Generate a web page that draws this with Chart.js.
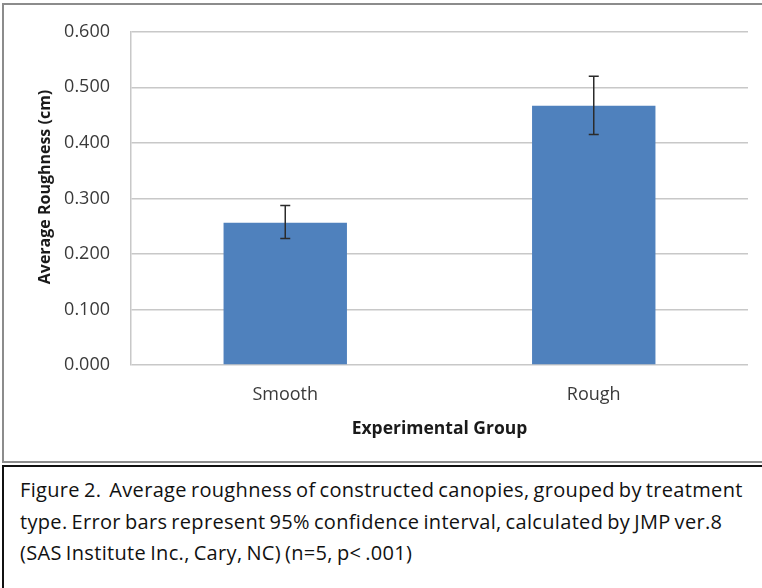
<!DOCTYPE html>
<html>
<head>
<meta charset="utf-8">
<script src="https://cdn.jsdelivr.net/npm/chart.js@4.4.1/dist/chart.umd.min.js"></script>
<style>
  body { margin: 0; background: #fff; width: 762px; height: 588px; overflow: hidden; position: relative; }
  #chartBox { position: absolute; left: 2px; top: 3px; width: 800px; height: 456px; border: 2px solid #8c8c8c; }
  #wrap { position: absolute; left: 0; top: 0; width: 762px; height: 464px; }
  #caption {
    position: absolute; left: 2px; top: 465px; width: 800px; height: 200px;
    border: 2px solid #111; box-sizing: border-box;
    font-family: 'Open Sans', sans-serif; font-size: 20px;
    letter-spacing: 0.33px; word-spacing: -1.5px;
    line-height: 31.5px; padding: 7px 0 0 16px; color: #111;
  }
</style>
</head>
<body>
<div id="chartBox"></div>
<div id="wrap"><canvas id="roughChart" width="762" height="464"></canvas></div>
<div id="caption">Figure 2.&nbsp; Average roughness of constructed canopies, grouped by treatment<br>type. Error bars represent 95% confidence interval, calculated by JMP ver.8<br>(SAS Institute Inc., Cary, NC) (n=5, p&lt; .001)</div>
<script>
const groups = ['Smooth', 'Rough']
const avgRoughness = [0.256, 0.467]
const ciLow = [0.228, 0.415]
const ciHigh = [0.287, 0.520]
const yTicks = [0, 0.1, 0.2, 0.3, 0.4, 0.5, 0.6]
const yTitle = 'Average Roughness (cm)'

const fontFamily = "'Open Sans', sans-serif"

// draws the 95% CI whiskers on top of the bars
const errorBars = {
    id: 'errorBars',
    afterDatasetsDraw(chart) {
        const ctx = chart.ctx;
        const yScale = chart.scales.y;
        const meta = chart.getDatasetMeta(0);
        ctx.save();
        ctx.strokeStyle = '#2b2b2b';
        ctx.lineWidth = 1.5;
        meta.data.forEach((bar, i) => {
            const x = bar.x;
            const top = yScale.getPixelForValue(ciHigh[i]);
            const bottom = yScale.getPixelForValue(ciLow[i]);
            ctx.beginPath();
            ctx.moveTo(x, top);
            ctx.lineTo(x, bottom);
            ctx.moveTo(x - 5, top);
            ctx.lineTo(x + 5, top);
            ctx.moveTo(x - 5, bottom);
            ctx.lineTo(x + 5, bottom);
            ctx.stroke();
        });
        ctx.restore();
    }
}

// y title sits a bit above the plot centre in the original, so draw it by hand
const sideTitle = {
    id: 'sideTitle',
    afterDraw(chart) {
        const ctx = chart.ctx;
        ctx.save();
        ctx.translate(45, 187);
        ctx.rotate(-Math.PI / 2);
        ctx.font = "bold 16px " + fontFamily;
        ctx.fillStyle = '#1a1a1a';
        ctx.textAlign = 'center';
        ctx.textBaseline = 'middle';
        ctx.fillText(yTitle, 0, 0);
        ctx.restore();
    }
}

const ctx = document.getElementById('roughChart').getContext('2d');

new Chart(ctx, {
    type: 'bar',
    data: {
        labels: groups,
        datasets: [{
            label: 'Average Roughness',
            data: avgRoughness,
            backgroundColor: '#4f81bd',
            borderWidth: 0,
            categoryPercentage: 1.0,
            barPercentage: 0.4
        }]
    },
    options: {
        responsive: false,
        animation: false,
        layout: { padding: { top: 28, right: 14, bottom: 24, left: 0 } },
        plugins: {
            legend: { display: false },
            tooltip: { enabled: false }
        },
        scales: {
            x: {
                grid: { display: false, drawTicks: false },
                border: { display: false },
                ticks: { color: '#3a3a3a', font: { family: fontFamily, size: 18 }, padding: 19 },
                title: {
                    display: true,
                    text: 'Experimental Group',
                    color: '#1a1a1a',
                    font: { family: fontFamily, size: 17.5, weight: 'bold' },
                    padding: { top: 0, bottom: 0 }
                },
                afterFit(scale) { scale.height = 75; }
            },
            y: {
                min: 0,
                max: 0.6,
                afterBuildTicks(scale) { scale.ticks = yTicks.map(v => ({ value: v })); },
                grid: { color: '#c8c8c8', lineWidth: 1.5, drawTicks: false },
                border: { display: true, color: '#c8c8c8', width: 1.5 },
                ticks: {
                    color: '#3a3a3a',
                    font: { family: fontFamily, size: 18 },
                    padding: 21,
                    callback: v => v.toFixed(3)
                },
                afterFit(scale) { scale.width = 131; }
            }
        }
    },
    plugins: [errorBars, sideTitle]
});
</script>
</body>
</html>
